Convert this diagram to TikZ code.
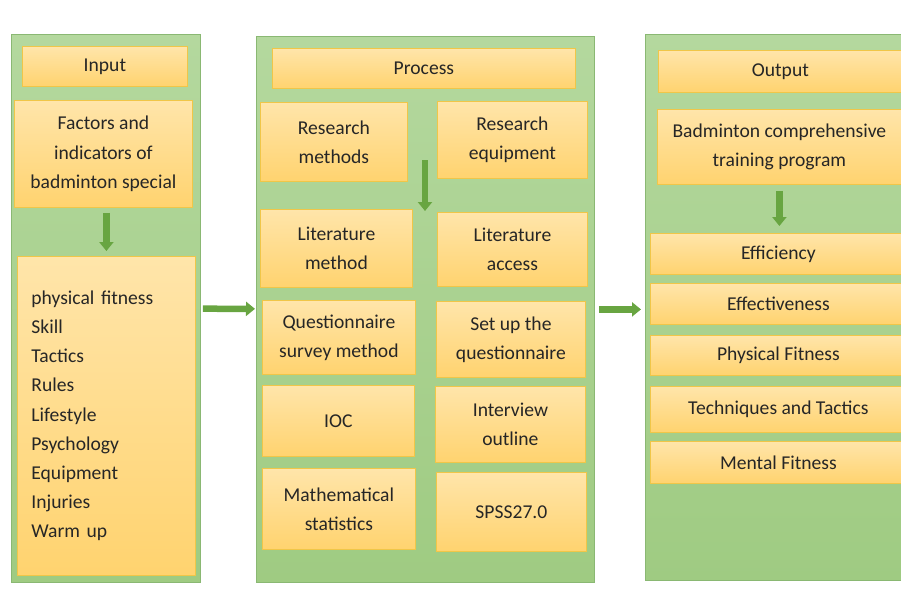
\documentclass[tikz,border=0pt]{standalone}
\usepackage{fontspec}
\setmainfont{Carlito}
\usepackage{xcolor}
\usepackage{tikz}
\usetikzlibrary{arrows.meta, positioning}

\definecolor{panelTop}{HTML}{B4D89E}
\definecolor{panelBot}{HTML}{9FCB82}
\definecolor{panelLine}{HTML}{8AB873}
\definecolor{boxTop}{HTML}{FFE5AA}
\definecolor{boxBot}{HTML}{FFD36F}
\definecolor{boxLine}{HTML}{F0C648}
\definecolor{flowGreen}{HTML}{68A541}
\definecolor{ink}{HTML}{262626}

\begin{document}
\begin{tikzpicture}[
  x=1pt, y=-1pt,
  panel/.style={rectangle, draw=panelLine, line width=0.8pt, top color=panelTop, bottom color=panelBot, anchor=north west, inner sep=0pt},
  box/.style={rectangle, draw=boxLine, line width=0.8pt, top color=boxTop, bottom color=boxBot, anchor=north west, align=center, text=ink, inner sep=2pt, font=\fontsize{19.6}{29.2}\selectfont},
  flow/.style={-{Triangle[width=14pt, length=9pt]}, line width=6.5pt, draw=flowGreen}
]
  \path[use as bounding box, clip] (0,0) rectangle (901,599);

  % three columns
  \node[panel, minimum width=189, minimum height=548] (inpanel) at (11,34) {};
  \node[panel, minimum width=338, minimum height=546] (procpanel) at (256,36) {};
  \node[panel, minimum width=270, minimum height=546] (outpanel) at (645,34) {};

  % input column
  \node[box, minimum width=165, minimum height=40] (inp) at (22,46) {Input};
  \node[box, minimum width=178, minimum height=107] (factors) at (14,100) {Factors and\\ indicators of\\ badminton special};
  \node[box, minimum width=178, minimum height=319, text width=150, align=left, inner xsep=14pt] (items) at (17,256)
    {physical fitness\\ Skill\\ Tactics\\ Rules\\ Lifestyle\\ Psychology\\ Equipment\\ Injuries\\ Warm up};

  % process column
  \node[box, minimum width=303, minimum height=40] (proc) at (272,48) {Process};
  \node[box, minimum width=147, minimum height=79] (resmeth) at (260,102) {Research\\ methods};
  \node[box, minimum width=150, minimum height=77] (resequip) at (437,101) {Research\\ equipment};
  \node[box, minimum width=152, minimum height=78] (litmeth) at (260,209) {Literature\\ method};
  \node[box, minimum width=150, minimum height=74] (litacc) at (437,212) {Literature\\ access};
  \node[box, minimum width=153, minimum height=74] (quesmeth) at (262,300) {Questionnaire\\ survey method};
  \node[box, minimum width=149, minimum height=76] (quesset) at (436,301) {Set up the\\ questionnaire};
  \node[box, minimum width=152, minimum height=71] (ioc) at (262,385) {IOC};
  \node[box, minimum width=150, minimum height=76] (interview) at (435,386) {Interview\\ outline};
  \node[box, minimum width=153, minimum height=81] (mathstat) at (262,468) {Mathematical\\ statistics};
  \node[box, minimum width=150, minimum height=79] (spss) at (436,472) {SPSS27.0};

  % output column
  \node[box, minimum width=244, minimum height=42] (outp) at (658,50) {Output};
  \node[box, minimum width=244, minimum height=75] (program) at (657,109) {Badminton comprehensive\\ training program};
  \node[box, minimum width=256, minimum height=41] (effic) at (650,233) {Efficiency};
  \node[box, minimum width=256, minimum height=41] (effect) at (650,283) {Effectiveness};
  \node[box, minimum width=256, minimum height=40] (physfit) at (650,335) {Physical Fitness};
  \node[box, minimum width=256, minimum height=46] (techtac) at (650,386) {Techniques and Tactics};
  \node[box, minimum width=256, minimum height=42] (mental) at (650,441) {Mental Fitness};

  \coordinate (methtop) at (425,160);
  \coordinate (methbot) at (425,211);

  \draw[flow, shorten <=5pt, shorten >=5pt] (items.north |- factors.south) -- (items.north);
  \draw[flow, shorten <=2pt, shorten >=1pt] (inpanel) -- (procpanel);
  \draw[flow] (methtop) -- (methbot);
  \draw[flow, shorten <=4pt, shorten >=4pt] (procpanel) -- (outpanel.west |- procpanel.east);
  \draw[flow, shorten <=6pt, shorten >=7pt] (program.south) -- (program.south |- effic.north);
\end{tikzpicture}
\end{document}
